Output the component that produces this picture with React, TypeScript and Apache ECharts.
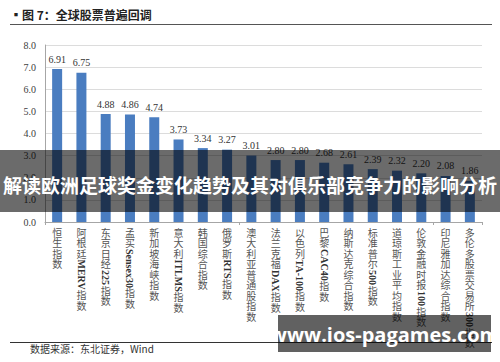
import React, { useEffect, useRef } from "react";
import * as echarts from "echarts";

const categories = [
  "恒生指数",
  "阿根廷MERV指数",
  "东京日经225指数",
  "孟买Sensex30指数",
  "新加坡海峡指数",
  "意大利ITLMS指数",
  "韩国综合指数",
  "俄罗斯RTS指数",
  "澳大利亚普通股指数",
  "法兰克福DAX指数",
  "以色列TA-100指数",
  "巴黎CAC40指数",
  "纳斯达克综合指数",
  "标准普尔500指数",
  "道琼斯工业平均指数",
  "伦敦金融时报100指数",
  "印尼雅加达综合指数",
  "多伦多股票交易所300指数",
];
const values = [6.91, 6.75, 4.88, 4.86, 4.74, 3.73, 3.34, 3.27, 3.01, 2.8, 2.8, 2.68, 2.61, 2.39, 2.32, 2.2, 2.08, 1.86];
const yMin = 0;
const yMax = 8;
const yStep = 1;

const titleText = "▪图 7：全球股票普遍回调";
const sourceText = "数据来源：东北证券，Wind";
const bannerText = "解读欧洲足球奖金变化趋势及其对俱乐部竞争力的影响分析";
const watermarkText = "www.ios-pagames.com";

const CJK_FONT = '10px "Liberation Serif", "Noto Sans CJK SC", serif';
const LATIN_FONT = 'bold 10px "Liberation Serif", serif';

let measureCtx: CanvasRenderingContext2D | null = null;
function measure(text: string, font: string): number {
  if (!measureCtx) {
    const c = document.createElement("canvas");
    measureCtx = c.getContext("2d");
  }
  if (!measureCtx) return text.length * 6;
  measureCtx.font = font;
  return measureCtx.measureText(text).width;
}

export default function App() {
  const ref = useRef<HTMLDivElement>(null);
  useEffect(() => {
    if (!ref.current) return;
    const chart = echarts.init(ref.current, undefined, { renderer: "svg" });
    const option: any = {
      animation: false,
      backgroundColor: "#ffffff",
      grid: { left: 45, right: 18, top: 45, bottom: 140, containLabel: false },
      xAxis: {
        type: "category",
        data: categories,
        axisLabel: { show: false },
        axisTick: { show: true, alignWithLabel: false, length: 3, lineStyle: { color: "#a6a6a6" } },
        axisLine: { show: true, lineStyle: { color: "#a6a6a6", width: 1 } },
        splitLine: { show: false },
      },
      yAxis: {
        type: "value",
        min: yMin,
        max: yMax,
        interval: yStep,
        axisLabel: {
          formatter: (v: number) => v.toFixed(1),
          fontSize: 10,
          color: "#404040",
          fontFamily: '"Liberation Serif", serif',
          margin: 9,
        },
        axisLine: { show: true, lineStyle: { color: "#a6a6a6" } },
        axisTick: { show: false },
        splitLine: { show: true, lineStyle: { color: "#dcdcdc", width: 1 } },
      },
      series: [
        {
          type: "bar",
          data: values,
          barWidth: 10,
          itemStyle: { color: "#4a7dc0" },
          label: {
            show: true,
            position: "top",
            distance: 5,
            formatter: (p: any) => Number(p.value).toFixed(2),
            fontSize: 10,
            color: "#333333",
            fontFamily: '"Liberation Serif", serif',
          },
          z: 2,
        },
        {
          type: "custom",
          silent: true,
          clip: false,
          z: 3,
          data: categories.map((_, i) => [i, 0]),
          renderItem: (params: any, api: any) => {
            const idx = api.value(0);
            const label = categories[params.dataIndex];
            const pt = api.coord([idx, 0]);
            const x = pt[0];
            let cy = pt[1] + 6;
            const children: any[] = [];
            const runs = label.match(/[A-Za-z0-9\-]+|./g) || [];
            runs.forEach((r: string) => {
              if (/^[A-Za-z0-9\-]+$/.test(r)) {
                const w = measure(r, LATIN_FONT);
                children.push({
                  type: "text",
                  x: x,
                  y: cy,
                  rotation: -Math.PI / 2,
                  style: {
                    text: r,
                    font: LATIN_FONT,
                    fill: "#333333",
                    align: "left",
                    verticalAlign: "middle",
                  },
                });
                cy += w + 1;
              } else {
                children.push({
                  type: "text",
                  x: x,
                  y: cy,
                  style: {
                    text: r,
                    font: CJK_FONT,
                    fill: "#555555",
                    align: "center",
                    verticalAlign: "top",
                  },
                });
                cy += 10.5;
              }
            });
            return { type: "group", children };
          },
        },
      ],
      graphic: [
        {
          type: "text",
          left: 10,
          top: 8,
          z: 50,
          style: {
            text: titleText,
            font: 'bold 12px "Noto Sans CJK SC", serif',
            fill: "#222222",
          },
        },
        {
          type: "line",
          z: 50,
          shape: { x1: 10, y1: 24.5, x2: 492, y2: 24.5 },
          style: { stroke: "#555555", lineWidth: 1 },
        },
        {
          type: "line",
          z: 50,
          shape: { x1: 10, y1: 342.5, x2: 492, y2: 342.5 },
          style: { stroke: "#333333", lineWidth: 1 },
        },
        {
          type: "text",
          left: 30,
          top: 343,
          z: 50,
          style: {
            text: sourceText,
            font: '10px "Noto Sans CJK SC", serif',
            fill: "#333333",
          },
        },
        {
          type: "rect",
          z: 100,
          shape: { x: 0, y: 150, width: 500, height: 62 },
          style: { fill: "rgba(0,0,0,0.58)" },
        },
        {
          type: "text",
          z: 101,
          x: 250,
          y: 184,
          style: {
            text: bannerText,
            font: 'bold 19px "Noto Sans CJK SC", sans-serif',
            fill: "#ffffff",
            align: "center",
            verticalAlign: "middle",
          },
        },
        {
          type: "rect",
          z: 100,
          shape: { x: 278, y: 315, width: 213, height: 37 },
          style: { fill: "rgba(0,0,0,0.62)" },
        },
        {
          type: "text",
          z: 101,
          x: 384.5,
          y: 334,
          style: {
            text: watermarkText,
            font: 'bold 20px "Open Sans", "DejaVu Sans", sans-serif',
            fill: "#ffffff",
            align: "center",
            verticalAlign: "middle",
          },
        },
      ],
    };
    chart.setOption(option);
    return () => chart.dispose();
  }, []);
  return (
    <div
      ref={ref}
      style={{ position: "absolute", left: 0, top: 0, width: 500, height: 362 }}
    />
  );
}
